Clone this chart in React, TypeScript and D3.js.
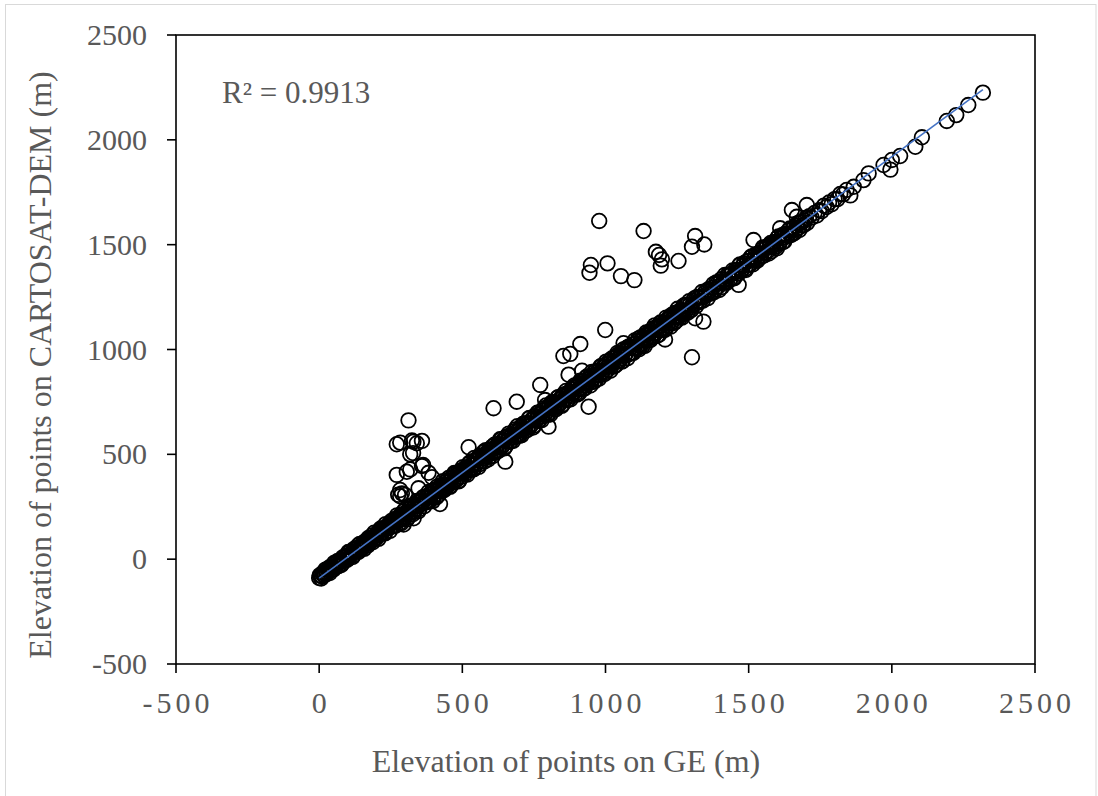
import React from 'react';
import * as d3 from 'd3';

// Axis ticks and labels
const xTicks = [-500, 0, 500, 1000, 1500, 2000, 2500];
const yTicks = [-500, 0, 500, 1000, 1500, 2000, 2500];
const xTitle = 'Elevation of points on GE (m)';
const yTitle = 'Elevation of points on CARTOSAT-DEM (m)';
const r2Label = 'R² = 0.9913';

// Linear trendline
const trendSlope = 1.005;
const trendIntercept = -90;
const trendXRange = [0, 2318];

// Dense band of points (GE elevation, CARTOSAT elevation)
const bandLow: [number, number][] = [
  [0,-90],[5,-78],[10,-83],[15,-63],[20,-69],[25,-72],[30,-51],[35,-40],[40,-54],[45,-41],
  [50,-49],[55,-24],[60,-31],[65,-8],[70,-26],[75,-9],[80,-22],[85,8],[90,-2],[95,15],
  [100,2],[105,31],[110,20],[115,33],[120,19],[125,47],[130,37],[135,64],[140,45],[145,60],
  [150,50],[155,79],[160,69],[165,84],[170,66],[175,96],[180,91],[185,113],[190,94],[195,112],
  [200,101],[205,128],[210,118],[215,146],[220,126],[225,141],[230,123],[235,155],[240,150],[245,170],
  [250,153],[255,173],[260,158],[265,192],[270,177],[275,197],[280,171],[285,209],[290,199],[295,228],
  [300,199],[305,224],[310,198],[315,241],[320,225],[325,255],[330,225],[335,252],[340,242],[345,273],
  [350,239],[355,276],[360,268],[365,297],[370,270],[375,290],[380,273],[385,309],[390,296],[395,324],
  [400,298],[405,323],[410,295],[415,337],[420,330],[425,352],[430,326],[435,355],[440,344],[445,376],
];
const bandLow2: [number, number][] = [
  [2,-77],[7,-92],[12,-72],[17,-77],[22,-50],[27,-64],[32,-45],[37,-66],[42,-39],[47,-49],
  [52,-18],[57,-32],[62,-14],[67,-33],[72,-11],[77,-28],[82,8],[87,-6],[92,14],[97,-4],
  [102,34],[107,12],[112,27],[117,10],[122,49],[127,37],[132,53],[137,35],[142,73],[147,50],
  [152,70],[157,49],[162,87],[167,75],[172,101],[177,78],[182,102],[187,81],[192,126],[197,103],
  [202,118],[207,97],[212,140],[217,121],[222,145],[227,124],[232,167],[237,146],[242,161],[247,135],
  [252,182],[257,159],[262,183],[267,160],[272,209],[277,184],[282,208],[287,172],[292,214],[297,196],
  [302,241],[307,190],[312,236],[317,213],[322,255],[327,214],[332,252],[337,238],[342,278],[347,229],
  [352,279],[357,262],[362,293],[367,253],[372,295],[377,275],[382,320],[387,278],[392,310],[397,277],
  [402,331],[407,310],[412,346],[417,306],[422,343],[427,327],[432,372],[437,330],[442,367],[447,354],
];
const bandMid: [number, number][] = [
  [450,351],[455,371],[460,351],[465,390],[470,377],[475,408],[480,379],[485,406],[490,377],[495,423],
  [500,409],[505,428],[510,405],[515,434],[520,423],[525,460],[530,428],[535,452],[540,429],[545,471],
  [550,456],[555,485],[560,453],[565,487],[570,480],[575,512],[580,481],[585,504],[590,475],[595,522],
  [600,505],[605,537],[610,507],[615,530],[620,512],[625,549],[630,538],[635,571],[640,540],[645,565],
  [650,537],[655,584],[660,564],[665,590],[670,564],[675,591],[680,582],[685,619],[690,588],[695,616],
  [700,589],[705,632],[710,617],[715,646],[720,613],[725,643],[730,633],[735,673],[740,639],[745,667],
  [750,636],[755,681],[760,669],[765,698],[770,666],[775,694],[780,681],[785,720],[790,695],[795,719],
  [800,690],[805,733],[810,721],[815,747],[820,715],[825,742],[830,730],[835,772],[840,746],[845,768],
  [850,738],[855,784],[860,763],[865,790],[870,763],[875,795],[880,778],[885,819],[890,798],[895,821],
];
const bandMid2: [number, number][] = [
  [452,387],[457,345],[462,384],[467,366],[472,411],[477,381],[482,410],[487,371],[492,411],[497,393],
  [502,439],[507,415],[512,438],[517,403],[522,453],[527,429],[532,448],[537,428],[542,483],[547,452],
  [552,476],[557,440],[562,495],[567,467],[572,492],[577,466],[582,520],[587,496],[592,521],[597,491],
  [602,525],[607,492],[612,546],[617,520],[622,540],[627,517],[632,572],[637,535],[642,567],[647,529],
  [652,583],[657,563],[662,599],[667,560],[672,593],[677,564],[682,609],[687,588],[692,634],[697,592],
  [702,619],[707,591],[712,645],[717,621],[722,648],[727,616],[732,671],[737,634],[742,664],[747,628],
  [752,682],[757,664],[762,698],[767,659],[772,696],[777,663],[782,710],[787,689],[792,733],[797,691],
  [802,721],[807,690],[812,747],[817,722],[822,749],[827,715],[832,770],[837,735],[842,765],[847,731],
  [852,784],[857,765],[862,802],[867,758],[872,793],[877,762],[882,811],[887,788],[892,829],[897,792],
];
const bandHigh: [number, number][] = [
  [900,785],[905,827],[910,812],[915,846],[920,811],[925,841],[930,829],[935,871],[940,845],[945,872],
  [950,844],[955,874],[960,847],[965,895],[970,880],[975,899],[980,877],[985,920],[990,894],[995,916],
  [1000,892],[1005,933],[1010,917],[1015,948],[1020,920],[1025,942],[1030,919],[1035,960],[1040,943],[1045,977],
  [1050,946],[1055,975],[1060,945],[1065,992],[1070,979],[1075,1009],[1080,978],[1085,1007],[1090,981],[1095,1024],
  [1100,1006],[1105,1029],[1110,1004],[1115,1052],[1120,1021],[1125,1043],[1130,1018],[1135,1066],[1140,1044],[1145,1071],
  [1150,1043],[1155,1076],[1160,1059],[1165,1100],[1170,1078],[1175,1103],[1180,1066],[1185,1108],[1190,1092],[1195,1127],
  [1200,1095],[1205,1124],[1210,1100],[1215,1142],[1220,1125],[1225,1158],[1230,1127],[1235,1151],[1240,1127],[1245,1175],
  [1250,1157],[1255,1180],[1260,1152],[1265,1187],[1270,1170],[1275,1211],[1280,1183],[1285,1214],[1290,1184],[1295,1215],
  [1300,1189],
];
const bandHigh2: [number, number][] = [
  [902,827],[907,790],[912,851],[917,821],[922,850],[927,814],[932,866],[937,836],[942,861],[947,828],
  [952,893],[957,863],[962,892],[967,857],[972,895],[977,861],[982,919],[987,888],[992,918],[997,883],
  [1002,942],[1007,903],[1012,933],[1017,899],[1022,957],[1027,935],[1032,963],[1037,926],[1042,984],[1047,947],
  [1052,976],[1057,942],[1062,1000],[1067,971],[1072,1001],[1077,958],[1082,1015],[1087,982],[1092,1012],[1097,984],
  [1102,1043],[1107,1009],[1112,1039],[1117,1001],[1122,1058],[1127,1025],[1132,1054],[1137,1017],[1142,1081],[1147,1054],
  [1152,1084],[1157,1045],[1162,1087],[1167,1060],[1172,1115],[1177,1080],[1182,1112],[1187,1070],[1192,1129],[1197,1096],
  [1202,1123],[1207,1093],[1212,1152],[1217,1113],[1222,1148],[1227,1109],[1232,1166],[1237,1142],[1242,1171],[1247,1136],
  [1252,1194],[1257,1158],[1262,1185],[1267,1152],[1272,1207],[1277,1174],[1282,1213],[1287,1175],[1292,1230],[1297,1200],
];
const bandUpper: [number, number][] = [
  [1307,1232],[1314,1218],[1320,1251],[1327,1225],[1334,1252],[1340,1233],[1347,1270],[1354,1263],[1360,1288],[1367,1268],
  [1374,1295],[1380,1275],[1387,1320],[1394,1301],[1400,1324],[1407,1298],[1414,1331],[1420,1323],[1427,1356],[1434,1333],
  [1440,1360],[1447,1341],[1454,1380],[1460,1370],[1467,1401],[1474,1376],[1480,1399],[1487,1384],[1494,1421],[1500,1405],
  [1507,1438],[1514,1406],[1520,1436],[1527,1427],[1534,1458],[1540,1448],[1547,1477],[1554,1449],[1560,1482],[1567,1470],
  [1574,1500],[1580,1469],[1587,1506],[1594,1500],[1600,1532],[1607,1505],[1614,1531],[1620,1513],[1627,1552],[1634,1544],
  [1640,1569],[1647,1548],[1654,1575],[1660,1556],[1667,1590],[1674,1581],[1680,1607],[1688,1592],[1696,1615],[1704,1603],
  [1712,1636],[1720,1629],[1730,1651],[1738,1639],[1746,1664],[1755,1660],[1763,1686],[1772,1680],[1781,1701],[1790,1693],
  [1800,1717],[1810,1717],[1820,1742],[1830,1740],[1842,1761],
];
const bandUpper2: [number, number][] = [
  [1310,1243],[1317,1208],[1324,1245],[1330,1229],[1337,1274],[1344,1251],[1350,1277],[1357,1245],[1364,1281],[1370,1267],
  [1377,1312],[1384,1287],[1390,1313],[1397,1284],[1404,1335],[1410,1319],[1417,1355],[1424,1319],[1430,1352],[1437,1338],
  [1444,1377],[1450,1340],[1457,1376],[1464,1362],[1470,1406],[1477,1383],[1484,1412],[1490,1379],[1497,1421],[1504,1404],
  [1510,1444],[1517,1426],[1524,1453],[1530,1423],[1537,1458],[1544,1443],[1550,1487],[1557,1461],[1564,1490],[1570,1458],
  [1577,1508],[1584,1494],[1590,1513],[1597,1492],[1604,1539],[1610,1515],[1617,1545],[1624,1515],[1630,1549],[1637,1539],
  [1644,1577],[1650,1548],[1657,1582],[1664,1571],[1670,1601],[1677,1570],[1684,1606],[1692,1593],[1700,1627],
];
const bandTop: [number, number][] = [
  [1855,1735],[1867,1776],[1901,1808],[1919,1840],[1971,1880],[1995,1858],[2000,1904],[2029,1923],
  [2082,1967],[2105,2012],[2192,2090],[2225,2118],[2267,2166],[2318,2225],
];
// Scattered points away from the band
const outliersLow: [number, number][] = [
  [312,662],[283,556],[271,548],[329,560],[341,553],[359,564],[324,566],[318,500],[328,506],[318,428],
  [306,417],[271,402],[359,444],[382,412],[363,449],[289,314],[283,300],[276,307],[300,306],[347,338],
  [394,391],[283,330],[295,165],[330,195],[422,263],[410,300],
];
const outliersMid: [number, number][] = [
  [522,534],[609,720],[690,751],[772,831],[789,759],[801,632],[650,465],[941,727],[871,880],[918,899],
  [853,969],[877,979],[912,1026],[999,1093],[1063,1030],[1208,1048],[1302,963],[1313,1149],[1342,1133],
];
const outliersHigh: [number, number][] = [
  [978,1613],[1133,1565],[1313,1541],[1302,1490],[1345,1501],[1176,1466],[1187,1451],[1197,1430],[1193,1400],
  [1255,1422],[949,1403],[944,1366],[1007,1411],[1054,1350],[1101,1331],[1517,1522],[1465,1308],[1599,1483],
  [1610,1578],[1651,1665],[1668,1633],[1703,1689],
];

const FONT = '"Liberation Serif", "Times New Roman", serif';
const GRAY = '#595959';

export default function App() {
  const W = 1098;
  const H = 796;
  const x = d3.scaleLinear().domain([-500, 2500]).range([176, 1035]);
  const y = d3.scaleLinear().domain([-500, 2500]).range([664, 35]);
  const points = [
    ...bandLow, ...bandLow2, ...bandMid, ...bandMid2, ...bandHigh, ...bandHigh2,
    ...bandUpper, ...bandUpper2, ...bandTop, ...outliersLow, ...outliersMid, ...outliersHigh,
  ];
  const trendPts: [number, number][] = trendXRange.map((v) => [v, trendSlope * v + trendIntercept]);
  const line = d3.line<[number, number]>().x((d) => x(d[0])).y((d) => y(d[1]));
  const [x0, x1] = x.range();
  const [y0, y1] = y.range();

  return (
    <div style={{ position: 'absolute', left: 0, top: 0 }}>
      <svg width={W} height={H} style={{ display: 'block' }}>
        <rect x={0} y={0} width={W} height={H} fill="#fff" />
        <rect x={5.5} y={4.5} width={1090.5} height={810} fill="none" stroke="#d9d9d9" strokeWidth={1} />
        <g>
          {points.map((p, i) => (
            <circle key={i} cx={x(p[0])} cy={y(p[1])} r={7.3} fill="none" stroke="#000" strokeWidth={1.8} />
          ))}
        </g>
        <path d={line(trendPts) || ''} fill="none" stroke="#4472C4" strokeWidth={1.6} />
        <rect x={x0} y={y1} width={x1 - x0} height={y0 - y1} fill="none" stroke="#000" strokeWidth={1.6} />
        {yTicks.map((t) => (
          <g key={'y' + t}>
            <line x1={x0 - 9} x2={x0} y1={y(t)} y2={y(t)} stroke="#000" strokeWidth={1.6} />
            <text x={147} y={y(t) + 10} textAnchor="end" fontFamily={FONT} fontSize={30} fill={GRAY}>{t}</text>
          </g>
        ))}
        {xTicks.map((t) => (
          <g key={'x' + t}>
            <line x1={x(t)} x2={x(t)} y1={y0} y2={y0 + 9} stroke="#000" strokeWidth={1.6} />
            <text x={x(t) + 2} y={713} textAnchor="middle" fontFamily={FONT} fontSize={30} letterSpacing={4} fill={GRAY}>{t}</text>
          </g>
        ))}
        <text x={566} y={772} textAnchor="middle" fontFamily={FONT} fontSize={32} fill={GRAY}>{xTitle}</text>
        <text transform={`translate(51,365) rotate(-90)`} textAnchor="middle" fontFamily={FONT} fontSize={32} fill={GRAY}>{yTitle}</text>
        <text x={222} y={103} fontFamily={FONT} fontSize={31} fill={GRAY}>{r2Label}</text>
      </svg>
    </div>
  );
}
